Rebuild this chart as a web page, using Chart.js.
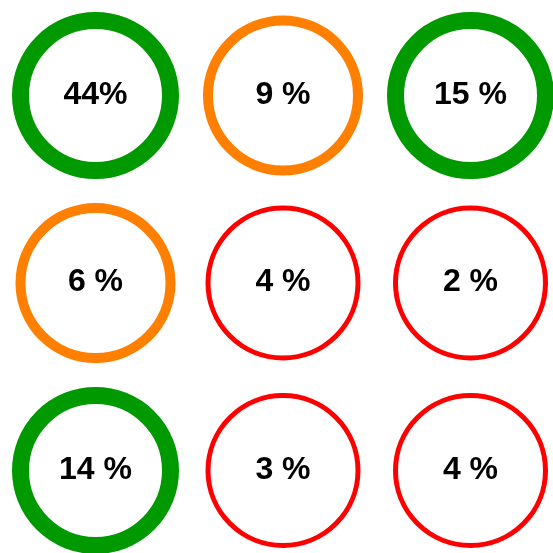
<!DOCTYPE html>
<html>
<head>
<meta charset="utf-8">
<script src="https://cdn.jsdelivr.net/npm/chart.js@4"></script>
<style>
  html, body { margin: 0; padding: 0; background: #fff; }
  canvas { display: block; }
</style>
</head>
<body>
<canvas id="myChart" width="553" height="553"></canvas>
<script>
// Данные
const labels = ['44%', '9 %', '15 %', '6 %', '4 %', '2 %', '14 %', '3 %', '4 %']
const values = [44, 9, 15, 6, 4, 2, 14, 3, 4]
const cols = [0, 1, 2, 0, 1, 2, 0, 1, 2]
const rows = [0, 0, 0, 1, 1, 1, 2, 2, 2]

// Цвет и толщина кольца зависят от значения
const ringColor = v => v >= 10 ? '#009900' : (v >= 5 ? '#ff8000' : '#ff0000')
const ringWidth = v => v >= 10 ? 17 : (v >= 5 ? 10 : 5)

// Подписи в центре колец
const centerText = {
    id: 'centerText',
    afterDatasetsDraw(chart) {
        const ctx = chart.ctx
        const meta = chart.getDatasetMeta(0)
        ctx.save()
        ctx.font = 'bold 32px "Liberation Sans", Arial, sans-serif'
        ctx.fillStyle = '#000'
        ctx.textAlign = 'center'
        ctx.textBaseline = 'alphabetic'
        meta.data.forEach((pt, i) => {
            ctx.fillText(labels[i], pt.x, pt.y + 8.5)
        })
        ctx.restore()
    }
}

const ctx = document.getElementById('myChart').getContext('2d')

const myChart = new Chart(ctx, {
    type: 'scatter',
    data: {
        datasets: [{
            data: values.map((v, i) => ({ x: cols[i], y: rows[i] })),
            pointRadius: 75,
            pointHoverRadius: 75,
            pointBackgroundColor: 'rgba(0,0,0,0)',
            pointBorderColor: values.map(ringColor),
            pointBorderWidth: values.map(ringWidth),
            pointHoverBorderWidth: values.map(ringWidth),
            clip: false
        }]
    },
    options: {
        responsive: false,
        animation: false,
        events: [],
        layout: { padding: 0, autoPadding: false },
        plugins: {
            legend: { display: false },
            tooltip: { enabled: false }
        },
        scales: {
            x: { display: false, min: -0.5093, max: 2.44 },
            y: { display: false, reverse: true, min: -0.5093, max: 2.44 }
        }
    },
    plugins: [centerText]
})
</script>
</body>
</html>
